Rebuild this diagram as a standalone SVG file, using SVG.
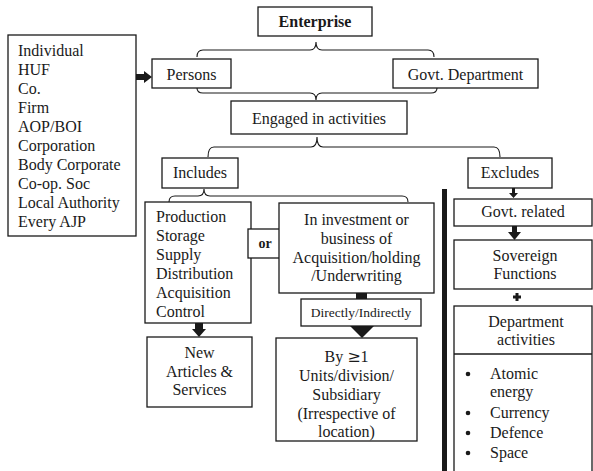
<svg xmlns="http://www.w3.org/2000/svg" width="593" height="471" viewBox="0 0 593 471">
<style>
.box{fill:#fff;stroke:#1a1a1a;stroke-width:1.3}
.brace{fill:none;stroke:#1a1a1a;stroke-width:1.1}
.arr{fill:#1a1a1a}
</style>
<rect width="593" height="471" fill="#fff"/>
<g id="connectors">
<path class="brace" d="M197,57 Q197,50 203,50 L310,50 Q316,50 316,42 Q316,50 322,50 L428,50 Q434,50 434,57"/>
<path class="brace" d="M197,88 Q197,93 203,93 L310,93 Q316,93 316,100 Q316,93 322,93 L431,93 Q437,93 437,88"/>
<path class="brace" d="M208,157 Q208,147 214,147 L311,147 Q317,147 317,137 Q317,147 323,147 L494,147 Q500,147 500,157"/>
<path class="brace" d="M169,202 Q169,196 175,196 L198,196 Q204,196 204,189 Q204,196 210,196 L402,196 Q408,196 408,202"/>
<polygon class="arr" points="136,74 144,74 144,71 152,77 144,83 144,80 136,80"/>
<polygon class="arr" points="195,323 203,323 203,329 206,329 199,337 192,329 195,329"/>
<rect class="arr" x="356" y="293" width="11" height="6"/>
<polygon class="arr" points="350,326 374,326 362,338"/>
<polygon class="arr" points="512,188 515,188 515,193 518,193 513.5,198 509,193 512,193"/>
<polygon class="arr" points="512,226 517,226 517,232 521,232 514.5,240 508,232 512,232"/>
<rect class="arr" x="442" y="189" width="5" height="282"/>
</g>
<g id="enterprise"><rect class="box" x="258" y="7" width="114" height="29"/><text font-family="Liberation Serif" font-size="16" font-weight="bold" fill="#1a1a1a" text-anchor="middle" x="315" y="27">Enterprise</text></g>
<g id="entities"><rect class="box" x="8" y="35" width="128" height="201"/>
<text font-family="Liberation Serif" font-size="16" fill="#1a1a1a" x="18" y="56">Individual</text>
<text font-family="Liberation Serif" font-size="16" fill="#1a1a1a" x="18" y="75">HUF</text>
<text font-family="Liberation Serif" font-size="16" fill="#1a1a1a" x="18" y="94">Co.</text>
<text font-family="Liberation Serif" font-size="16" fill="#1a1a1a" x="18" y="113">Firm</text>
<text font-family="Liberation Serif" font-size="16" fill="#1a1a1a" x="18" y="132">AOP/BOI</text>
<text font-family="Liberation Serif" font-size="16" fill="#1a1a1a" x="18" y="151">Corporation</text>
<text font-family="Liberation Serif" font-size="16" fill="#1a1a1a" x="18" y="170">Body Corporate</text>
<text font-family="Liberation Serif" font-size="16" fill="#1a1a1a" x="18" y="189">Co-op. Soc</text>
<text font-family="Liberation Serif" font-size="16" fill="#1a1a1a" x="18" y="208">Local Authority</text>
<text font-family="Liberation Serif" font-size="16" fill="#1a1a1a" x="18" y="227">Every AJP</text>
</g>
<g id="persons"><rect class="box" x="152" y="59" width="79" height="29"/><text font-family="Liberation Serif" font-size="16" fill="#1a1a1a" text-anchor="middle" x="191.5" y="80">Persons</text></g>
<g id="govt-dept"><rect class="box" x="393" y="59" width="145" height="29"/><text font-family="Liberation Serif" font-size="16" fill="#1a1a1a" text-anchor="middle" x="465.5" y="80">Govt. Department</text></g>
<g id="engaged"><rect class="box" x="231" y="101" width="176" height="33"/><text font-family="Liberation Serif" font-size="16" fill="#1a1a1a" text-anchor="middle" x="319" y="124">Engaged in activities</text></g>
<g id="includes"><rect class="box" x="162" y="158" width="76" height="30"/><text font-family="Liberation Serif" font-size="16" fill="#1a1a1a" text-anchor="middle" x="200" y="178">Includes</text></g>
<g id="excludes"><rect class="box" x="468" y="158" width="84" height="30"/><text font-family="Liberation Serif" font-size="16" fill="#1a1a1a" text-anchor="middle" x="510" y="178">Excludes</text></g>
<g id="production"><rect class="box" x="145" y="202" width="106" height="121"/>
<text font-family="Liberation Serif" font-size="16" fill="#1a1a1a" x="156" y="222">Production</text>
<text font-family="Liberation Serif" font-size="16" fill="#1a1a1a" x="156" y="241">Storage</text>
<text font-family="Liberation Serif" font-size="16" fill="#1a1a1a" x="156" y="260">Supply</text>
<text font-family="Liberation Serif" font-size="16" fill="#1a1a1a" x="156" y="279">Distribution</text>
<text font-family="Liberation Serif" font-size="16" fill="#1a1a1a" x="156" y="298">Acquisition</text>
<text font-family="Liberation Serif" font-size="16" fill="#1a1a1a" x="156" y="317">Control</text>
</g>
<g id="or"><rect class="box" x="248" y="229" width="34" height="29"/><text font-family="Liberation Serif" font-size="14" font-weight="bold" fill="#1a1a1a" text-anchor="middle" x="265" y="248">or</text></g>
<g id="investment"><rect class="box" x="279" y="203" width="155" height="90"/>
<text font-family="Liberation Serif" font-size="16" fill="#1a1a1a" text-anchor="middle" x="356.5" y="225">In investment or</text>
<text font-family="Liberation Serif" font-size="16" fill="#1a1a1a" text-anchor="middle" x="356.5" y="244">business of</text>
<text font-family="Liberation Serif" font-size="16" fill="#1a1a1a" text-anchor="middle" x="356.5" y="263">Acquisition/holding</text>
<text font-family="Liberation Serif" font-size="16" fill="#1a1a1a" text-anchor="middle" x="356.5" y="281">/Underwriting</text>
</g>
<g id="directly"><rect class="box" x="301" y="299" width="120" height="27"/><text font-family="Liberation Serif" font-size="13.5" fill="#1a1a1a" text-anchor="middle" x="361" y="317">Directly/Indirectly</text></g>
<g id="new-articles"><rect class="box" x="147" y="337" width="105" height="70"/>
<text font-family="Liberation Serif" font-size="16" fill="#1a1a1a" text-anchor="middle" x="199.5" y="358">New</text>
<text font-family="Liberation Serif" font-size="16" fill="#1a1a1a" text-anchor="middle" x="199.5" y="377">Articles &amp;</text>
<text font-family="Liberation Serif" font-size="16" fill="#1a1a1a" text-anchor="middle" x="199.5" y="395">Services</text>
</g>
<g id="units"><rect class="box" x="276" y="338" width="141" height="103"/>
<text font-family="Liberation Serif" font-size="16" fill="#1a1a1a" text-anchor="middle" x="346.5" y="362">By <tspan font-family="DejaVu Serif">≥</tspan>1</text>
<text font-family="Liberation Serif" font-size="16" fill="#1a1a1a" text-anchor="middle" x="346.5" y="381">Units/division/</text>
<text font-family="Liberation Serif" font-size="16" fill="#1a1a1a" text-anchor="middle" x="346.5" y="400">Subsidiary</text>
<text font-family="Liberation Serif" font-size="16" fill="#1a1a1a" text-anchor="middle" x="346.5" y="419">(Irrespective of</text>
<text font-family="Liberation Serif" font-size="16" fill="#1a1a1a" text-anchor="middle" x="346.5" y="437">location)</text>
</g>
<g id="govt-related"><rect class="box" x="454" y="199" width="138" height="27"/><text font-family="Liberation Serif" font-size="16" fill="#1a1a1a" text-anchor="middle" x="523" y="217">Govt. related</text></g>
<g id="sovereign"><rect class="box" x="454" y="240" width="138" height="49"/>
<text font-family="Liberation Serif" font-size="16" fill="#1a1a1a" text-anchor="middle" x="525" y="261">Sovereign</text>
<text font-family="Liberation Serif" font-size="16" fill="#1a1a1a" text-anchor="middle" x="525" y="279">Functions</text>
</g>
<g id="plus" class="arr"><rect x="513" y="295.5" width="8" height="3"/><rect x="515.5" y="293" width="3" height="8"/></g>
<g id="department"><rect class="box" x="454" y="306" width="138" height="170"/>
<line x1="454" y1="354" x2="592" y2="354" stroke="#1a1a1a" stroke-width="1.3"/>
<text font-family="Liberation Serif" font-size="16" fill="#1a1a1a" text-anchor="middle" x="526" y="327">Department</text>
<text font-family="Liberation Serif" font-size="16" fill="#1a1a1a" text-anchor="middle" x="526" y="345">activities</text>
<circle class="arr" cx="468" cy="374" r="2.3"/>
<circle class="arr" cx="468" cy="413" r="2.3"/>
<circle class="arr" cx="468" cy="433" r="2.3"/>
<circle class="arr" cx="468" cy="453" r="2.3"/>
<text font-family="Liberation Serif" font-size="16" fill="#1a1a1a" x="490" y="379">Atomic</text>
<text font-family="Liberation Serif" font-size="16" fill="#1a1a1a" x="490" y="397">energy</text>
<text font-family="Liberation Serif" font-size="16" fill="#1a1a1a" x="490" y="418">Currency</text>
<text font-family="Liberation Serif" font-size="16" fill="#1a1a1a" x="490" y="438">Defence</text>
<text font-family="Liberation Serif" font-size="16" fill="#1a1a1a" x="490" y="458">Space</text>
</g>
</svg>
